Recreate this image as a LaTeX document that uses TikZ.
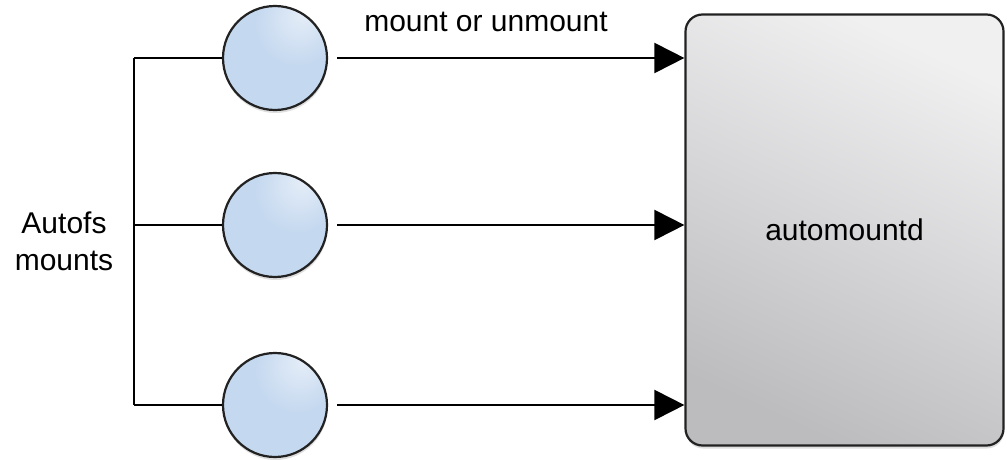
\documentclass[tikz,border=0pt]{standalone}
\usepackage{fontspec}
\setmainfont{Liberation Sans}
\usetikzlibrary{arrows.meta,shadows}
\definecolor{ballhi}{HTML}{E6EEF8}
\definecolor{ballmid}{HTML}{C4D8EF}
\definecolor{balllo}{HTML}{B2CAE8}
\definecolor{boxhi}{HTML}{F0F0F1}
\definecolor{boxlo}{HTML}{BCBCBF}
\definecolor{edge}{HTML}{222222}
\pgfdeclareradialshading{ballshade}{\pgfpoint{14bp}{22bp}}{color(0bp)=(ballhi); color(20bp)=(ballmid); color(45bp)=(ballmid); color(75bp)=(balllo)}
\tikzset{
  lbl/.style={font=\fontsize{30}{37}\selectfont, inner sep=0pt},
  ball/.style={circle, draw=edge, line width=2.2pt, minimum size=104pt, inner sep=0pt, shading=ballshade,
    drop shadow={shadow xshift=0.5pt, shadow yshift=-3pt, opacity=0.25}},
  bigbox/.style={rectangle, rounded corners=17pt, draw=edge, line width=2.2pt, minimum width=318pt, minimum height=431pt,
    top color=boxhi, bottom color=boxlo, shading angle=-25, inner sep=0pt,
    drop shadow={shadow xshift=0.5pt, shadow yshift=-3pt, opacity=0.25}},
  conn/.style={line width=2pt, black},
  arr/.style={conn, -{Triangle[length=30pt,width=30pt]}, shorten <=9pt},
}
\begin{document}
\begin{tikzpicture}[x=1pt,y=-1pt]
\useasboundingbox (0,0) rectangle (1007,460);
\node[ball] (c1) at (275,58) {};
\node[ball] (c2) at (275,225) {};
\node[ball] (c3) at (275,405) {};
\node[bigbox, lbl] (box) at (844.5,230) {automountd};
\coordinate (j1) at (134,58);
\coordinate (j2) at (134,225);
\coordinate (j3) at (134,405);
\draw[conn] (j1) -- (j3);
\draw[conn] (j1) -- (c1.west);
\draw[conn] (j2) -- (c2.west);
\draw[conn] (j3) -- (c3.west);
\draw[arr] (c1.east) -- (box.west |- c1);
\draw[arr] (c2.east) -- (box.west |- c2);
\draw[arr] (c3.east) -- (box.west |- c3);
\node[lbl, anchor=base] (t1) at (486,32) {mount or unmount};
\node[lbl, align=center] (t2) at (64,241) {Autofs\\mounts};
\end{tikzpicture}
\end{document}
